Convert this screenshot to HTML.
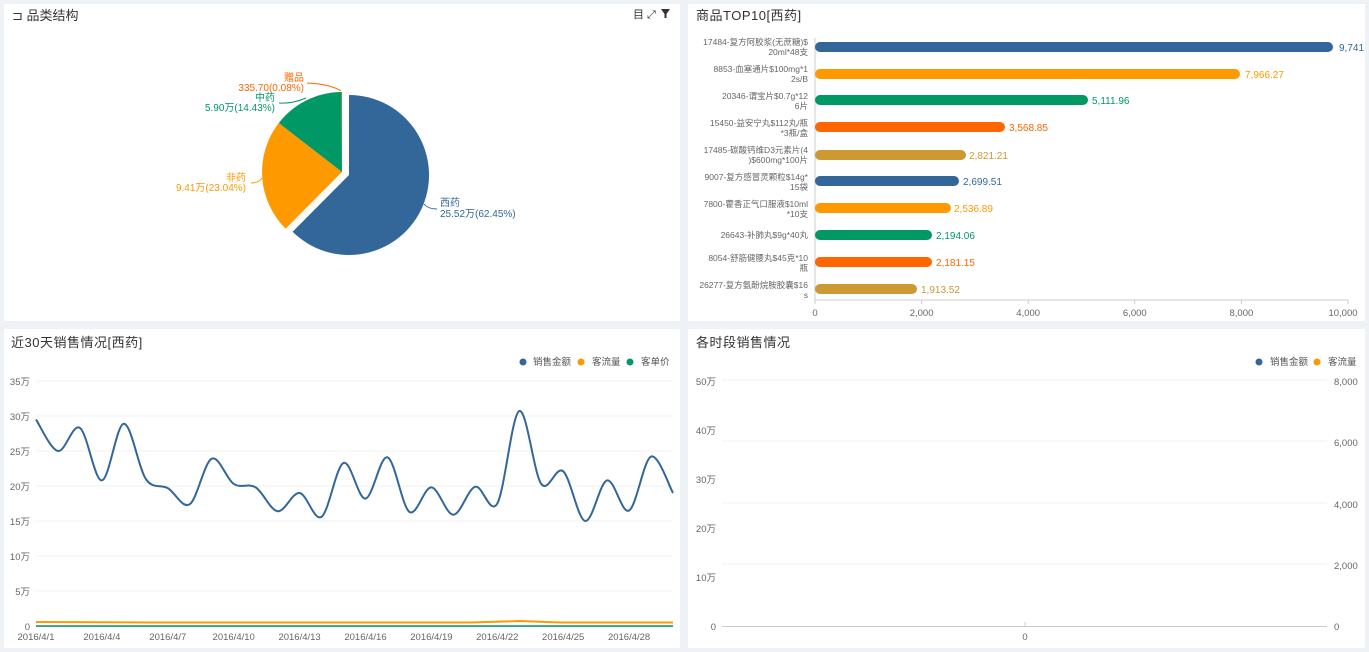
<!DOCTYPE html>
<html><head><meta charset="utf-8"><style>
body{margin:0;background:#eef1f6;width:1369px;height:652px;overflow:hidden;font-family:"Liberation Sans","Noto Sans CJK SC",sans-serif}
svg{position:absolute;left:0;top:0}
text{font-family:"Liberation Sans","Noto Sans CJK SC",sans-serif}
</style></head><body>
<svg width="1369" height="652" viewBox="0 0 1369 652">
<rect x="4" y="4" width="676" height="317" fill="#fff"/>
<rect x="688" y="4" width="677" height="317" fill="#fff"/>
<rect x="4" y="329" width="676" height="319" fill="#fff"/>
<rect x="688" y="329" width="677" height="319" fill="#fff"/>
<!-- Panel 1 -->
<text x="12" y="20" font-size="13" fill="#333">⊐ 品类结构</text>
<text x="633" y="18" font-size="11" fill="#333">目 ⤢</text>
<path d="M661 9h9l-3.5 5v4h-2v-4z" fill="#333"/>
<path d="M349 175 L349 95 A80 80 0 1 1 292.6 231.7 Z" fill="#336699"/>
<path d="M342 172 L285.6 228.7 A80 80 0 0 1 278.8 123 Z" fill="#ff9900"/>
<path d="M342 172 L278.8 123 A80 80 0 0 1 341.6 92 Z" fill="#009966"/>
<path d="M342 172 L341.6 92 L342 92 Z" fill="#ff6600"/>
<g font-size="10">
<path d="M424 204 Q428 209 437 209" stroke="#336699" fill="none"/>
<text x="440" y="206" fill="#336699">西药</text><text x="440" y="217" fill="#336699">25.52万(62.45%)</text>
<path d="M262 178 Q259 183 251 183" stroke="#ff9900" fill="none"/>
<text x="246" y="181" fill="#ff9900" text-anchor="end">非药</text><text x="246" y="191" fill="#ff9900" text-anchor="end">9.41万(23.04%)</text>
<path d="M306 98 Q292 104 279 103" stroke="#009966" fill="none"/>
<text x="275" y="101" fill="#009966" text-anchor="end">中药</text><text x="275" y="111" fill="#009966" text-anchor="end">5.90万(14.43%)</text>
<path d="M341 91 Q330 84 307 83" stroke="#ff6600" fill="none"/>
<text x="304" y="81" fill="#ff6600" text-anchor="end">赠品</text><text x="304" y="91" fill="#ff6600" text-anchor="end">335.70(0.08%)</text>
</g>
<!-- Panel 2 -->
<text x="696" y="20" font-size="13" fill="#333" letter-spacing="0.5">商品TOP10[西药]</text>
<line x1="815" y1="38" x2="815" y2="300" stroke="#ccc"/>
<line x1="815" y1="300" x2="1348" y2="300" stroke="#ccc"/>
<g stroke="#ccc"><line x1="815" y1="300" x2="815" y2="304"/><line x1="921.6" y1="300" x2="921.6" y2="304"/><line x1="1028.2" y1="300" x2="1028.2" y2="304"/><line x1="1134.8" y1="300" x2="1134.8" y2="304"/><line x1="1241.4" y1="300" x2="1241.4" y2="304"/><line x1="1348" y1="300" x2="1348" y2="304"/></g>
<g font-size="9.5" fill="#666" text-anchor="middle"><text x="815" y="316">0</text><text x="921.6" y="316">2,000</text><text x="1028.2" y="316">4,000</text><text x="1134.8" y="316">6,000</text><text x="1241.4" y="316">8,000</text><text x="1343" y="316">10,000</text></g>
<g stroke-linecap="round" stroke-width="10">
<line x1="820" y1="47" x2="1328" y2="47" stroke="#336699"/>
<line x1="820" y1="74" x2="1235" y2="74" stroke="#ff9900"/>
<line x1="820" y1="100" x2="1083" y2="100" stroke="#009966"/>
<line x1="820" y1="127" x2="1000" y2="127" stroke="#ff6600"/>
<line x1="820" y1="155" x2="961" y2="155" stroke="#cc9933"/>
<line x1="820" y1="181" x2="954" y2="181" stroke="#336699"/>
<line x1="820" y1="208" x2="946" y2="208" stroke="#ff9900"/>
<line x1="820" y1="235" x2="927" y2="235" stroke="#009966"/>
<line x1="820" y1="262" x2="927" y2="262" stroke="#ff6600"/>
<line x1="820" y1="289" x2="912" y2="289" stroke="#cc9933"/>
</g>
<g font-size="10">
<text x="1339" y="51" fill="#336699">9,741</text>
<text x="1245" y="78" fill="#ff9900">7,966.27</text>
<text x="1092" y="104" fill="#009966">5,111.96</text>
<text x="1009" y="131" fill="#ff6600">3,568.85</text>
<text x="969" y="159" fill="#cc9933">2,821.21</text>
<text x="963" y="185" fill="#336699">2,699.51</text>
<text x="954" y="212" fill="#ff9900">2,536.89</text>
<text x="936" y="239" fill="#009966">2,194.06</text>
<text x="936" y="266" fill="#ff6600">2,181.15</text>
<text x="921" y="293" fill="#cc9933">1,913.52</text>
</g>
<g font-size="8.5" fill="#666" text-anchor="end">
<text x="808" y="45">17484-复方阿胶浆(无蔗糖)$</text><text x="808" y="55">20ml*48支</text>
<text x="808" y="72">8853-血塞通片$100mg*1</text><text x="808" y="82">2s/B</text>
<text x="808" y="99">20346-谓宝片$0.7g*12</text><text x="808" y="109">6片</text>
<text x="808" y="126">15450-益安宁丸$112丸/瓶</text><text x="808" y="136">*3瓶/盒</text>
<text x="808" y="153">17485-碳酸钙维D3元素片(4</text><text x="808" y="163">)$600mg*100片</text>
<text x="808" y="180">9007-复方感冒灵颗粒$14g*</text><text x="808" y="190">15袋</text>
<text x="808" y="207">7800-藿香正气口服液$10ml</text><text x="808" y="217">*10支</text>
<text x="808" y="238">26643-补肺丸$9g*40丸</text>
<text x="808" y="261">8054-舒筋健腰丸$45克*10</text><text x="808" y="271">瓶</text>
<text x="808" y="288">26277-复方氨酚烷胺胶囊$16</text><text x="808" y="298">s</text>
</g>
<!-- Panel 3 -->
<text x="11" y="347" font-size="13" fill="#333" letter-spacing="0.5">近30天销售情况[西药]</text>
<g font-size="9.5" fill="#555"><circle cx="523" cy="362" r="3.5" fill="#336699"/><text x="533" y="365">销售金额</text>
<circle cx="581" cy="362" r="3.5" fill="#ff9900"/><text x="592" y="365">客流量</text>
<circle cx="630" cy="362" r="3.5" fill="#009966"/><text x="641" y="365">客单价</text></g>
<g stroke="#f2f2f2"><line x1="36" y1="381" x2="673" y2="381"/><line x1="36" y1="416" x2="673" y2="416"/><line x1="36" y1="451" x2="673" y2="451"/><line x1="36" y1="486" x2="673" y2="486"/><line x1="36" y1="521" x2="673" y2="521"/><line x1="36" y1="556" x2="673" y2="556"/><line x1="36" y1="591" x2="673" y2="591"/></g>
<g font-size="9.5" fill="#666" text-anchor="end"><text x="30" y="385">35万</text><text x="30" y="420">30万</text><text x="30" y="455">25万</text><text x="30" y="490">20万</text><text x="30" y="525">15万</text><text x="30" y="560">10万</text><text x="30" y="595">5万</text><text x="30" y="630">0</text></g>
<line x1="36" y1="626.5" x2="673" y2="626.5" stroke="#ccc"/>
<g font-size="9.5" fill="#666" text-anchor="middle" id="xl"></g>
<path id="sales" fill="none" stroke="#336699" stroke-width="2"/>
<path d="M36 622 L150 622.5 L300 622.5 L470 622.5 L520 621 L560 622.5 L673 622.5" fill="none" stroke="#ff9900" stroke-width="2"/>
<line x1="36" y1="626" x2="673" y2="626" stroke="#009966" stroke-width="1.5"/>
<!-- Panel 4 -->
<text x="696" y="347" font-size="13" fill="#333" letter-spacing="0.5">各时段销售情况</text>
<g font-size="9.5" fill="#555"><circle cx="1259" cy="362" r="3.5" fill="#336699"/><text x="1270" y="365">销售金额</text>
<circle cx="1317" cy="362" r="3.5" fill="#ff9900"/><text x="1328" y="365">客流量</text></g>
<g stroke="#f2f2f2"><line x1="722" y1="380" x2="1327" y2="380"/><line x1="722" y1="441" x2="1327" y2="441"/><line x1="722" y1="503" x2="1327" y2="503"/><line x1="722" y1="564" x2="1327" y2="564"/></g>
<line x1="722" y1="626.5" x2="1327" y2="626.5" stroke="#ccc"/>
<line x1="1025" y1="622" x2="1025" y2="626" stroke="#ccc"/>
<g font-size="9.5" fill="#666" text-anchor="end"><text x="716" y="385">50万</text><text x="716" y="434">40万</text><text x="716" y="483">30万</text><text x="716" y="532">20万</text><text x="716" y="581">10万</text><text x="716" y="630">0</text></g>
<g font-size="9.5" fill="#666"><text x="1334" y="385">8,000</text><text x="1334" y="446">6,000</text><text x="1334" y="508">4,000</text><text x="1334" y="569">2,000</text><text x="1334" y="630">0</text></g>
<text x="1025" y="640" font-size="9.5" fill="#666" text-anchor="middle">0</text>
</svg>
<script>
var v=[29.5,25,28.3,20.8,28.9,21,19.7,17.4,23.9,20.3,19.8,16.4,19,15.6,23.3,18.2,24.1,16.3,19.8,15.9,19.9,17.5,30.7,20.3,22.1,15,20.8,16.5,24.2,19];
var dx=21.966,p=v.map(function(a,i){return [36+i*dx,626-a*7];});
var d="M"+p[0][0]+" "+p[0][1];
for(var i=0;i<p.length-1;i++){var a=p[i-1]||p[i],b=p[i],c=p[i+1],e=p[i+2]||c;
d+=" C"+(b[0]+(c[0]-a[0])/6)+" "+(b[1]+(c[1]-a[1])/6)+" "+(c[0]-(e[0]-b[0])/6)+" "+(c[1]-(e[1]-b[1])/6)+" "+c[0]+" "+c[1];}
document.getElementById("sales").setAttribute("d",d);
var g=document.getElementById("xl"),s="";
for(var k=0;k<10;k++){var x=36+k*3*dx;s+='<text x="'+x+'" y="640">2016/4/'+(1+3*k)+'</text>';}
g.innerHTML=s;
</script>
</body></html>
